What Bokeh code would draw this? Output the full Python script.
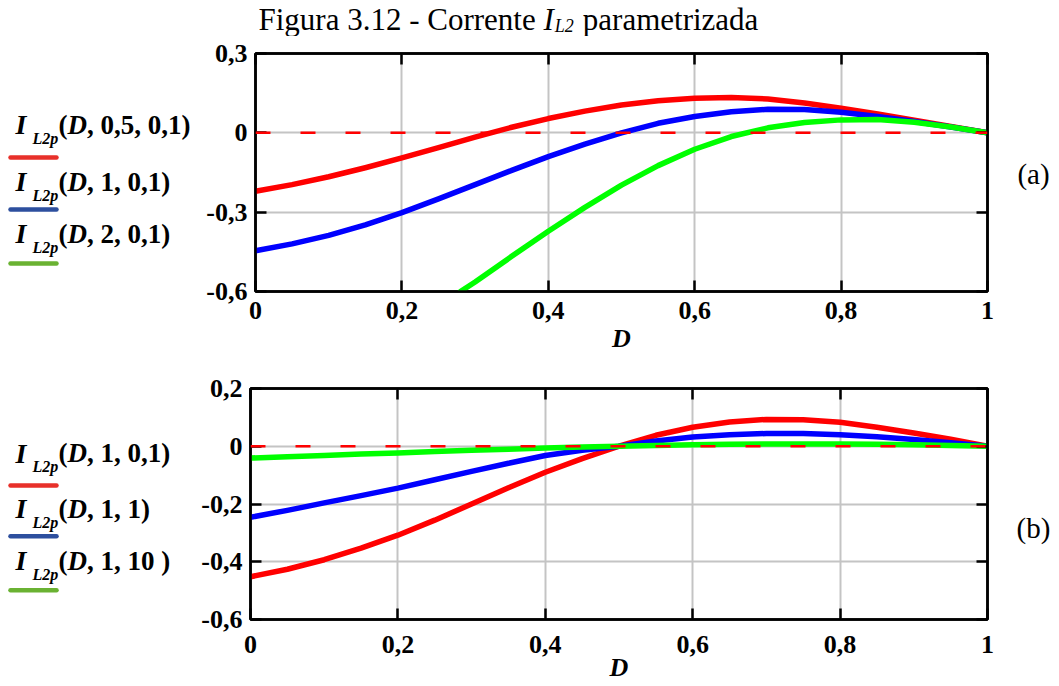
from bokeh.plotting import figure
from bokeh.layouts import column, row
from bokeh.models import (Span, FixedTicker, LinearAxis, Range1d, CustomJSTickFormatter)
from bokeh.core.properties import value
from bokeh.embed import file_html
from bokeh.resources import INLINE

# ---------------- data ----------------
D = [0.00, 0.05, 0.10, 0.15, 0.20, 0.25, 0.30, 0.35, 0.40, 0.45, 0.50,
     0.55, 0.60, 0.65, 0.70, 0.75, 0.80, 0.85, 0.90, 0.95, 1.00]

# panel (a)
a_red = [-0.221, -0.196, -0.166, -0.132, -0.095, -0.056, -0.016, 0.021, 0.054, 0.082, 0.105,
         0.121, 0.131, 0.134, 0.128, 0.113, 0.093, 0.071, 0.048, 0.024, 0.000]
a_blue = [-0.446, -0.420, -0.388, -0.348, -0.302, -0.250, -0.196, -0.142, -0.090, -0.043, 0.000,
          0.036, 0.062, 0.080, 0.089, 0.088, 0.078, 0.062, 0.043, 0.022, 0.000]
D_a_green = [0.28, 0.30, 0.35, 0.40, 0.45, 0.50, 0.55, 0.60, 0.65, 0.70, 0.75, 0.80, 0.85, 0.90, 0.95, 1.00]
a_green = [-0.600, -0.564, -0.467, -0.372, -0.282, -0.198, -0.124, -0.062, -0.014, 0.019, 0.039,
           0.049, 0.050, 0.040, 0.022, 0.000]

# panel (b)
b_red = [-0.452, -0.426, -0.393, -0.353, -0.308, -0.256, -0.200, -0.144, -0.090, -0.043, 0.000,
         0.038, 0.066, 0.084, 0.093, 0.092, 0.083, 0.066, 0.046, 0.024, 0.000]
b_blue = [-0.246, -0.222, -0.196, -0.171, -0.145, -0.116, -0.087, -0.059, -0.032, -0.014, 0.000,
          0.018, 0.032, 0.040, 0.044, 0.044, 0.040, 0.033, 0.023, 0.012, 0.000]
b_green = [-0.041, -0.036, -0.032, -0.027, -0.023, -0.018, -0.014, -0.010, -0.006, -0.003, 0.000,
           0.003, 0.005, 0.007, 0.008, 0.008, 0.008, 0.007, 0.005, 0.003, 0.000]

x_ticks = [0, 0.2, 0.4, 0.6, 0.8, 1]
x_tick_labels = ["0", "0,2", "0,4", "0,6", "0,8", "1"]
a_y_ticks = [0.3, 0, -0.3, -0.6]
a_y_tick_labels = ["0,3", "0", "-0,3", "-0,6"]
b_y_ticks = [0.2, 0, -0.2, -0.4, -0.6]
b_y_tick_labels = ["0,2", "0", "-0,2", "-0,4", "-0,6"]

a_legend_args = [", 0,5, 0,1)", ", 1, 0,1)", ", 2, 0,1)"]
b_legend_args = [", 1, 0,1)", ", 1, 1)", ", 1, 10 )"]
legend_colors = ["#e8302a", "#2d4f9e", "#6ab232"]
curve_colors = ["#ff0000", "#0000ff", "#00ff00"]

title_parts = ["Figura 3.12 - Corrente", "I", "L2", "parametrizada"]
panel_tags = ["(a)", "(b)"]

SERIF = "Liberation Serif"

# layout (pixels of the page)
TOTAL_W = 1051
TITLE_H = 36
ROW_A_H = 326
ROW_B_H = 322
LEG_W = 190
PANEL_RIGHT = 995
A_FRAME = (53, 291)      # top, bottom of panel (a) frame
B_FRAME = (388, 624)     # top, bottom of panel (b) frame


def tick_fmt(ticks, labels):
    return CustomJSTickFormatter(args=dict(t=ticks, l=labels), code="""
        for (let i = 0; i < t.length; i++) {
            if (Math.abs(t[i] - tick) < 1e-9) { return l[i]; }
        }
        return "";
    """)


def style_axis(ax, ticks, labels, show):
    ax.ticker = FixedTicker(ticks=ticks)
    ax.formatter = tick_fmt(ticks, labels)
    ax.major_tick_in = 11
    ax.major_tick_out = 0
    ax.minor_tick_in = 0
    ax.minor_tick_out = 0
    ax.major_tick_line_width = 2.5
    ax.major_tick_line_color = "black"
    ax.axis_line_color = "black"
    ax.axis_line_width = 2.5
    ax.major_label_text_font = SERIF
    ax.major_label_text_font_style = "bold"
    if show:
        ax.major_label_text_font_size = "26px"
        ax.major_label_text_color = "black"
    else:
        ax.major_label_text_font_size = "1px"
        ax.major_label_text_color = None
        ax.major_label_standoff = 0


def text_canvas(w, h, x0, x1, ytop, ybot):
    p = figure(width=w, height=h, x_range=Range1d(x0, x1), y_range=Range1d(ybot, ytop),
               x_axis_type=None, y_axis_type=None, output_backend="svg", title=None,
               toolbar_location=None, min_border=0, min_border_left=0, min_border_right=0,
               min_border_top=0, min_border_bottom=0)
    p.outline_line_color = None
    p.background_fill_color = "white"
    p.border_fill_color = "white"
    p.grid.visible = False
    return p


def make_panel(width, height, f_left, f_top, f_h, y0, y1, y_ticks, y_labels,
               lab_std, axlab_std, ylab_std):
    p = figure(width=width, height=height, x_range=Range1d(0, 1), y_range=Range1d(y0, y1),
               output_backend="svg", toolbar_location=None, title=None,
               min_border_left=f_left, min_border_right=PANEL_RIGHT - 987,
               min_border_top=f_top, min_border_bottom=height - f_top - f_h)
    p.outline_line_color = "black"
    p.outline_line_width = 2.5
    p.outline_line_alpha = 1.0
    p.background_fill_color = "white"
    p.border_fill_color = "white"
    p.xgrid.ticker = FixedTicker(ticks=x_ticks)
    p.ygrid.ticker = FixedTicker(ticks=y_ticks)
    p.xgrid.grid_line_color = "#c4c4c4"
    p.ygrid.grid_line_color = "#c4c4c4"
    p.xgrid.grid_line_width = 2
    p.ygrid.grid_line_width = 2

    bx = p.xaxis[0]
    ly = p.yaxis[0]
    style_axis(bx, x_ticks, x_tick_labels, True)
    style_axis(ly, y_ticks, y_labels, True)
    bx.major_label_standoff = lab_std
    ly.major_label_standoff = ylab_std
    bx.axis_label = "D"
    bx.axis_label_text_font = SERIF
    bx.axis_label_text_font_style = "bold italic"
    bx.axis_label_text_font_size = "26px"
    bx.axis_label_text_color = "black"
    bx.axis_label_standoff = axlab_std

    top_ax = LinearAxis()
    right_ax = LinearAxis()
    p.add_layout(top_ax, "above")
    p.add_layout(right_ax, "right")
    style_axis(top_ax, x_ticks, x_tick_labels, False)
    style_axis(right_ax, y_ticks, y_labels, False)
    return p


def legend_canvas(h, frame, centers, underlines, args):
    # in a row, the text canvas's frame is aligned to the panel's frame
    p = text_canvas(LEG_W, h, 0, LEG_W, frame[0], frame[1])
    n = len(args)
    common = dict(text_font=value(SERIF), text_baseline="middle", text_color="black")
    p.text(x=[15] * n, y=centers, text=["I"] * n, text_font_style=value("bold italic"),
           text_font_size=value("28px"), **common)
    p.text(x=[32] * n, y=[c + 14 for c in centers], text=["L2p"] * n,
           text_font_style=value("bold italic"), text_font_size=value("16px"), **common)
    p.text(x=[58] * n, y=centers, text=["("] * n, text_font_style=value("bold"),
           text_font_size=value("27px"), **common)
    p.text(x=[67] * n, y=centers, text=["D"] * n, text_font_style=value("bold italic"),
           text_font_size=value("27px"), **common)
    p.text(x=[86.5] * n, y=centers, text=args, text_font_style=value("bold"),
           text_font_size=value("27px"), **common)
    p.segment(x0=[10] * n, y0=underlines, x1=[56] * n, y1=underlines,
              line_color=legend_colors, line_width=4.5, line_cap="round")
    return p


def tag_canvas(h, frame, yc, tag):
    w = TOTAL_W - PANEL_RIGHT
    p = text_canvas(w, h, PANEL_RIGHT, TOTAL_W, frame[0], frame[1])
    p.text(x=[1033], y=[yc], text=[tag], text_font=value(SERIF),
           text_font_size=value("29px"), text_align="center", text_baseline="middle",
           text_color="black")
    return p


# ---------------- title ----------------
pt = text_canvas(TOTAL_W, TITLE_H, 0, TOTAL_W, 0, TITLE_H)
TS = 31.0
tx0 = 258
tc = 19
w_first = 8.943 * TS
w_sp = 0.25 * TS
w_I = 0.333 * TS
w_sub = 1.056 * TS * 0.65
pt.text(x=[tx0, tx0 + w_first + w_sp + w_I + w_sub + w_sp], y=[tc, tc],
        text=[title_parts[0], title_parts[3]],
        text_font=value(SERIF), text_font_size=value("31px"), text_baseline="middle",
        text_color="black")
pt.text(x=[tx0 + w_first + w_sp], y=[tc], text=[title_parts[1]], text_font=value(SERIF),
        text_font_style=value("italic"), text_font_size=value("31px"),
        text_baseline="middle", text_color="black")
pt.text(x=[tx0 + w_first + w_sp + w_I + 1], y=[tc + 6], text=[title_parts[2]],
        text_font=value(SERIF), text_font_style=value("italic"), text_font_size=value("18px"),
        text_baseline="middle", text_color="black")

# ---------------- panel (a) ----------------
ya_top = TITLE_H
pa = make_panel(PANEL_RIGHT - LEG_W, ROW_A_H, 255 - LEG_W, A_FRAME[0] - ya_top,
                A_FRAME[1] - A_FRAME[0], -0.6, 0.3, a_y_ticks, a_y_tick_labels, 10, 2, 8)
pa.line(D, a_red, line_color=curve_colors[0], line_width=5.5, line_cap="round", line_join="round")
pa.line(D, a_blue, line_color=curve_colors[1], line_width=5.5, line_cap="round", line_join="round")
pa.line(D_a_green, a_green, line_color=curve_colors[2], line_width=5.5, line_cap="round", line_join="round")
pa.add_layout(Span(location=0, dimension="width", line_color="#ff0000", line_width=2.5, line_dash="15 30"))
la = legend_canvas(ROW_A_H, A_FRAME, [124, 181, 233], [157, 209, 263], a_legend_args)
ta = tag_canvas(ROW_A_H, A_FRAME, 173, panel_tags[0])

# ---------------- panel (b) ----------------
yb_top = TITLE_H + ROW_A_H
pb = make_panel(PANEL_RIGHT - LEG_W, ROW_B_H, 250 - LEG_W, B_FRAME[0] - yb_top,
                B_FRAME[1] - B_FRAME[0], -0.6, 0.2, b_y_ticks, b_y_tick_labels, 16, -3, 8)
pb.line(D, b_red, line_color=curve_colors[0], line_width=5.5, line_cap="round", line_join="round")
pb.line(D, b_blue, line_color=curve_colors[1], line_width=5.5, line_cap="round", line_join="round")
pb.line(D, b_green, line_color=curve_colors[2], line_width=5.5, line_cap="round", line_join="round")
pb.add_layout(Span(location=0, dimension="width", line_color="#ff0000", line_width=2.5, line_dash="15 30"))
lb = legend_canvas(ROW_B_H, B_FRAME, [454, 511, 564], [487, 539, 594], b_legend_args)
tb_fig = tag_canvas(ROW_B_H, B_FRAME, 531, panel_tags[1])

layout = column(pt, row(la, pa, ta, spacing=0), row(lb, pb, tb_fig, spacing=0), spacing=0)
open("out.html", "w").write(file_html(layout, INLINE, "Figura 3.12"))
